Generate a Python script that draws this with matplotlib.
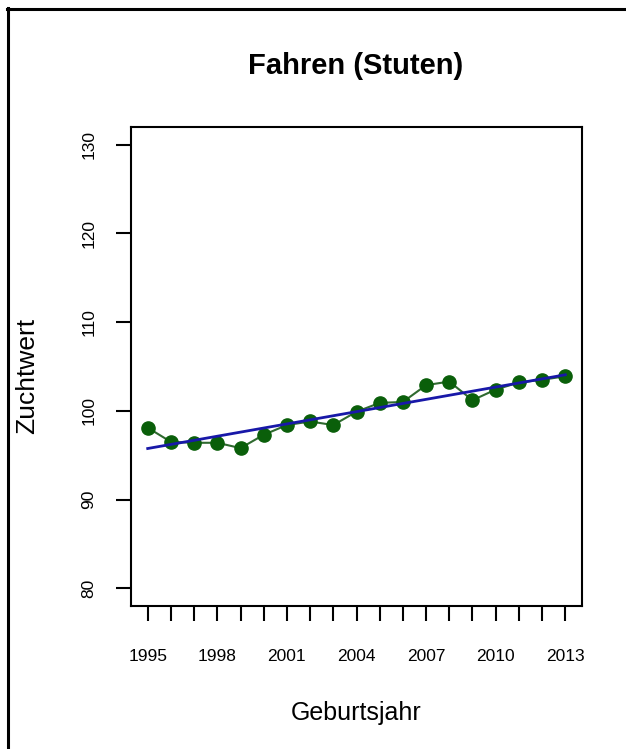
import matplotlib.pyplot as plt
import numpy as np
from matplotlib.lines import Line2D

plt.rcParams["font.family"] = ["Liberation Sans", "DejaVu Sans"]

years = np.arange(1995, 2014)
zuchtwert = [98.1, 96.5, 96.4, 96.4, 95.8, 97.3, 98.4, 98.8, 98.4, 99.9,
             100.9, 101.0, 102.9, 103.3, 101.2, 102.4, 103.2, 103.5, 103.9]
ytick_vals = [80, 90, 100, 110, 120, 130]
xtick_labels = ["1995", "1998", "2001", "2004", "2007", "2010", "2013"]

W, H = 626, 749
fig = plt.figure(figsize=(W / 100, H / 100), dpi=100)
ax = fig.add_axes([131 / W, 1 - 606 / H, 451 / W, 479 / H])

# yearly means plus linear trend
ax.plot(years, zuchtwert, color="#2f6a2f", lw=1.5, zorder=2)
ax.plot(years, zuchtwert, "o", color="#0a5f0a", ms=9.5, zorder=3)
coef = np.polyfit(years, zuchtwert, 1)
ax.plot(years, np.polyval(coef, years), color="#1818a8", lw=2, zorder=4)

ax.set_xlim(1994.28, 2013.72)
ax.set_ylim(78, 132)

ax.set_xticks(years)
ax.set_xticklabels([str(y) if str(y) in xtick_labels else "" for y in years],
                   fontsize=12.5)
ax.set_yticks(ytick_vals)
ax.set_yticklabels([str(v) for v in ytick_vals], fontsize=12.5,
                   rotation=90, va="center")
ax.tick_params(axis="x", length=11, width=1.5, pad=20, direction="out")
ax.tick_params(axis="y", length=11, width=1.5, pad=14, direction="out")
for s in ax.spines.values():
    s.set_linewidth(1.5)

fig.text(356 / W, 1 - 66 / H, "Fahren (Stuten)", fontsize=21,
         fontweight="bold", ha="center", va="center")
fig.text(356 / W, 1 - 713 / H, "Geburtsjahr", fontsize=18,
         ha="center", va="center")
fig.text(27 / W, 1 - 376 / H, "Zuchtwert", fontsize=19, rotation=90,
         ha="center", va="center")

# frame lines along top and left edge
fig.add_artist(Line2D([7.5 / W, 7.5 / W], [0, 1 - 8 / H], color="black",
                      lw=2.2, transform=fig.transFigure))
fig.add_artist(Line2D([6.5 / W, 1], [1 - 9 / H, 1 - 9 / H], color="black",
                      lw=2.2, transform=fig.transFigure))

fig.savefig("out.png", dpi=100)
